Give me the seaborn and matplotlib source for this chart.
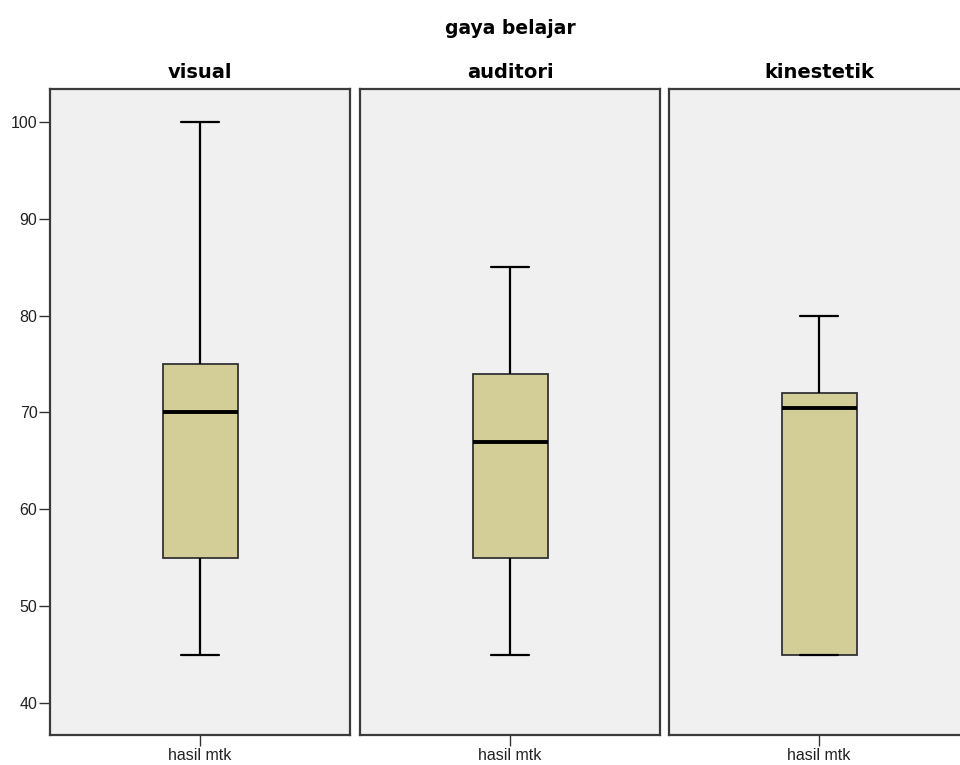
import matplotlib
matplotlib.use("Agg")
import matplotlib.pyplot as plt
import seaborn as sns
import pandas as pd

# Five-number summaries (min, Q1, median, Q3, max)
groups = ["visual", "auditori", "kinestetik"]
visual = [45, 55, 70, 75, 100]
auditori = [45, 55, 67, 74, 85]
kinestetik = [45, 45, 70.5, 72, 80]
values = {"visual": visual, "auditori": auditori, "kinestetik": kinestetik}
y_ticks = [40, 50, 60, 70, 80, 90, 100]
var_label = "hasil mtk"
suptitle = "gaya belajar"

sns.set_theme(style="white")
plt.rcParams["font.family"] = ["Liberation Sans", "DejaVu Sans"]

fig = plt.figure(figsize=(9.6, 7.65), dpi=100)
W, H = 960, 765
lefts = [50, 360, 669]
pw = 300
top, bottom = 89, 735

box_color = "#D3CE97"
edge = "#333333"

for i, g in enumerate(groups):
    ax = fig.add_axes([lefts[i] / W, (H - bottom) / H, pw / W, (bottom - top) / H])
    df = pd.DataFrame({"var": var_label, "value": values[g]})
    sns.boxplot(
        data=df, x="var", y="value", ax=ax, width=0.25, whis=1.5,
        color=box_color, saturation=1, linecolor=edge,
        boxprops=dict(facecolor=box_color, edgecolor=edge, linewidth=1.3),
        medianprops=dict(color="black", linewidth=2.8),
        whiskerprops=dict(color="black", linewidth=1.6),
        capprops=dict(color="black", linewidth=1.6),
        showfliers=False,
    )
    ax.set_facecolor("#F0F0F0")
    ax.set_ylim(36.7, 103.4)
    ax.set_xlim(-0.5, 0.5)
    ax.set_xlabel("")
    ax.set_ylabel("")
    ax.set_title(g, fontsize=14, fontweight="bold", family=["DejaVu Sans"],
                 pad=8, color="black")
    for sp in ax.spines.values():
        sp.set_color("#3a3a3a")
        sp.set_linewidth(1.6)
    ax.tick_params(axis="x", which="both", direction="out", length=8, width=1,
                   color="#333333", labelsize=11.5, pad=1, bottom=True)
    if i == 0:
        ax.set_yticks(y_ticks)
        ax.tick_params(axis="y", direction="out", length=8, width=1,
                       color="#333333", labelsize=11.5, pad=1, left=True)
        ax.set_yticklabels([str(t) for t in y_ticks], color="#222222")
    else:
        ax.set_yticks([])
    for lab in ax.get_xticklabels():
        lab.set_color("#222222")

fig.text(510 / W, 1 - 28 / H, suptitle, ha="center", va="center",
         fontsize=13.5, fontweight="bold", family=["DejaVu Sans"], color="black")

fig.savefig("out.png", dpi=100, facecolor="white")
